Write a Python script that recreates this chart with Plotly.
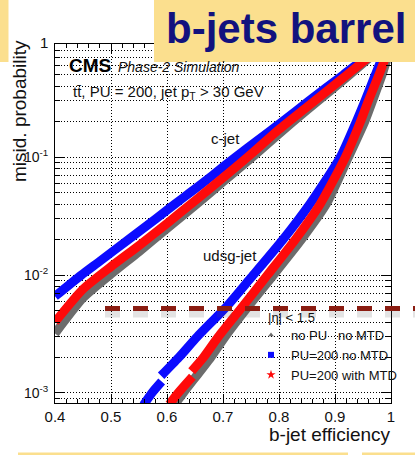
import plotly.graph_objects as go

# ---------------- data ----------------
# c-jet mistag vs b-jet efficiency
cjet_eff_pu200_nomtd = [0.400, 0.447, 0.480, 0.531, 0.580, 0.614, 0.641, 0.663, 0.681, 0.722, 0.760, 0.806, 0.853, 0.915, 0.955, 1.000]
cjet_mis_pu200_nomtd = [0.0066, 0.0100, 0.0131, 0.0200, 0.0300, 0.0400, 0.0500, 0.0600, 0.0700, 0.100, 0.137, 0.200, 0.300, 0.500, 0.700, 1.000]

cjet_eff = [0.40, 0.45, 0.50, 0.55, 0.60, 0.65, 0.70, 0.75, 0.80, 0.85, 0.90, 0.95, 1.00]
cjet_mis_pu200_mtd = [0.0040, 0.0076, 0.0118, 0.0178, 0.0274, 0.0427, 0.0668, 0.106, 0.172, 0.267, 0.413, 0.646, 1.000]
cjet_mis_nopu = [0.0032, 0.0064, 0.0102, 0.0158, 0.0248, 0.0389, 0.0617, 0.0977, 0.158, 0.251, 0.394, 0.624, 1.000]

# udsg-jet mistag vs b-jet efficiency (None = gap in the curve)
udsg_eff_pu200_nomtd = [0.558, 0.573, 0.5905, None, 0.5895, 0.621, 0.654, 0.7066, 0.750, 0.807, 0.855, 0.9095, 0.938, 0.9535, 0.972, 0.9845, 1.000]
udsg_mis_pu200_nomtd = [0.00079, 0.00100, 0.00125, None, 0.00140, 0.0020, 0.0030, 0.00542, 0.0095, 0.020, 0.040, 0.100, 0.200, 0.300, 0.500, 0.700, 1.000]

udsg_eff_pu200_mtd = [0.604, 0.620, 0.6454, None, 0.6440, 0.665, 0.6917, 0.735, 0.780, 0.829, 0.8735, 0.9185, 0.9455, 0.9595, 0.9785, 0.990, 1.000]
udsg_mis_pu200_mtd = [0.00080, 0.00100, 0.00137, None, 0.00153, 0.0020, 0.0030, 0.00542, 0.0101, 0.020, 0.040, 0.100, 0.200, 0.300, 0.500, 0.700, 1.000]

udsg_eff_nopu = [0.614, 0.629, 0.678, 0.7036, 0.745, 0.790, 0.840, 0.8845, 0.924, 0.953, 0.967, 0.984, 0.9935, 1.000]
udsg_mis_nopu = [0.00080, 0.00100, 0.0020, 0.0030, 0.00542, 0.0100, 0.020, 0.040, 0.100, 0.200, 0.300, 0.500, 0.700, 1.000]

x_tickvals = [0.4, 0.5, 0.6, 0.7, 0.8, 0.9, 1.0]
x_ticktext = ["0.4", "0.5", "0.6", "0.7", "0.8", "0.9", "1"]
y_tickvals = [0.001, 0.01, 0.1]
y_ticktext = ["10<sup>-3</sup>", "10<sup>-2</sup>", "10<sup>-1</sup>"]

series_names = ["no PU   no MTD", "PU=200 no MTD", "PU=200 with MTD"]

# ---------------- layout helpers ----------------
W, H = 415, 455
ML, MR, MT, MB = 55, 24, 44, 52
PW = W - ML - MR
PH = H - MT - MB


def px(xp):
    return (xp - ML) / PW


def py(yp):
    return (H - MB - yp) / PH


FONT = "Liberation Sans, Arial, Helvetica, sans-serif"
GRAY = "#6c6c6c"
BLUE = "#0b0bff"
RED = "#ff0a0a"
YELLOW = "#fbdf8e"
NAVY = "#12127e"
LW = 9
LSHAPE = dict(shape="spline", smoothing=0.6)

fig = go.Figure()

# gray first, then blue, then red on top
fig.add_trace(go.Scatter(x=cjet_eff, y=cjet_mis_nopu, mode="lines",
                         line=dict(color=GRAY, width=LW, **LSHAPE), showlegend=False))
fig.add_trace(go.Scatter(x=udsg_eff_nopu, y=udsg_mis_nopu, mode="lines",
                         line=dict(color=GRAY, width=LW, **LSHAPE), showlegend=False))
fig.add_trace(go.Scatter(x=cjet_eff_pu200_nomtd, y=cjet_mis_pu200_nomtd, mode="lines",
                         line=dict(color=BLUE, width=LW, **LSHAPE), showlegend=False))
fig.add_trace(go.Scatter(x=udsg_eff_pu200_nomtd, y=udsg_mis_pu200_nomtd, mode="lines",
                         line=dict(color=BLUE, width=LW, **LSHAPE), showlegend=False, connectgaps=False))
fig.add_trace(go.Scatter(x=cjet_eff, y=cjet_mis_pu200_mtd, mode="lines",
                         line=dict(color=RED, width=LW, **LSHAPE), showlegend=False))
fig.add_trace(go.Scatter(x=udsg_eff_pu200_mtd, y=udsg_mis_pu200_mtd, mode="lines",
                         line=dict(color=RED, width=LW, **LSHAPE), showlegend=False, connectgaps=False))

# legend entries
fig.add_trace(go.Scatter(x=[None], y=[None], mode="markers", name=series_names[0],
                         marker=dict(symbol="triangle-up", size=5, color=GRAY)))
fig.add_trace(go.Scatter(x=[None], y=[None], mode="markers", name=series_names[1],
                         marker=dict(symbol="square", size=6, color=BLUE)))
fig.add_trace(go.Scatter(x=[None], y=[None], mode="markers", name=series_names[2],
                         marker=dict(symbol="star", size=7, color=RED)))

axis_common = dict(
    showline=True, linecolor="black", linewidth=1, mirror="ticks",
    ticks="inside", tickcolor="black", tickwidth=1,
    showgrid=True, gridcolor="black", gridwidth=1, griddash="1px,2px",
    zeroline=False,
)

fig.update_xaxes(
    range=[0.4, 1.0], tickvals=x_tickvals, ticktext=x_ticktext, ticklen=9,
    minor=dict(dtick=0.02, tick0=0.4, ticks="inside", ticklen=4, tickcolor="black", showgrid=False),
    tickfont=dict(family=FONT, size=15, color="#111"),
    **axis_common,
)
fig.update_yaxes(
    type="log", range=[-3.085, -0.04], tickvals=y_tickvals, ticktext=y_ticktext, ticklen=10,
    minor=dict(dtick="D1", ticks="inside", ticklen=5, tickcolor="black", showgrid=True,
               gridcolor="black", griddash="1px,2px", gridwidth=1),
    ticklabelstandoff=3,
    tickfont=dict(family=FONT, size=14, color="#111"),
    **axis_common,
)

shapes = [
    # title box
    dict(type="rect", xref="paper", yref="paper", x0=px(154), x1=px(416), y0=py(62), y1=py(-1),
         fillcolor=YELLOW, line=dict(width=0), layer="above"),
    # left yellow strip
    dict(type="rect", xref="paper", yref="paper", x0=px(-1), x1=px(8.5), y0=py(62), y1=py(-1),
         fillcolor=YELLOW, line=dict(width=0), layer="above"),
    # bottom yellow strips
    dict(type="rect", xref="paper", yref="paper", x0=px(18), x1=px(348), y0=py(456), y1=py(452.5),
         fillcolor=YELLOW, line=dict(width=0), layer="above"),
    dict(type="rect", xref="paper", yref="paper", x0=px(362), x1=px(416), y0=py(456), y1=py(452.5),
         fillcolor=YELLOW, line=dict(width=0), layer="above"),
    # dashed line shadow
    dict(type="line", xref="paper", yref="paper", x0=px(105), x1=px(416), y0=py(313.5), y1=py(313.5),
         line=dict(color="rgba(80,80,80,0.16)", width=8, dash="15px,13px"), layer="above"),
    # dashed line
    dict(type="line", xref="paper", yref="paper", x0=px(105), x1=px(416), y0=py(308.5), y1=py(308.5),
         line=dict(color="#8b1d12", width=5, dash="15px,13px"), layer="above"),
]

annotations = [
    dict(text="<b>b-jets barrel</b>", x=px(286), y=py(29), xref="paper", yref="paper",
         xanchor="center", yanchor="middle", showarrow=False,
         font=dict(family=FONT, size=42, color=NAVY)),
    dict(text="<b>CMS</b>", x=px(67), y=py(65.5), xref="paper", yref="paper",
         xanchor="left", yanchor="middle", showarrow=False,
         font=dict(family=FONT, size=19, color="black")),
    dict(text="<i>Phase-2 Simulation</i>", x=px(116), y=py(67), xref="paper", yref="paper",
         xanchor="left", yanchor="middle", showarrow=False,
         font=dict(family=FONT, size=14, color="#111")),
    dict(text="tt\u0304, PU = 200, jet p<sub>T</sub> &gt; 30 GeV", x=px(71), y=py(92), xref="paper", yref="paper",
         xanchor="left", yanchor="middle", showarrow=False,
         font=dict(family=FONT, size=15, color="#111")),
    dict(text="c-jet", x=px(225.5), y=py(138), xref="paper", yref="paper",
         xanchor="center", yanchor="middle", showarrow=False,
         font=dict(family=FONT, size=15, color="#111")),
    dict(text="udsg-jet", x=px(230), y=py(255), xref="paper", yref="paper",
         xanchor="center", yanchor="middle", showarrow=False,
         font=dict(family=FONT, size=15, color="#111")),
    dict(text="|\u03b7| &lt; 1.5", x=px(266), y=py(317), xref="paper", yref="paper",
         xanchor="left", yanchor="middle", showarrow=False,
         font=dict(family=FONT, size=13, color="#111")),
    dict(text="b-jet efficiency", x=px(393), y=py(434), xref="paper", yref="paper",
         xanchor="right", yanchor="middle", showarrow=False,
         font=dict(family=FONT, size=19, color="#111")),
    dict(text="misid. probability", x=px(19), y=py(38), xref="paper", yref="paper",
         xanchor="center", yanchor="top", textangle=-90, showarrow=False,
         font=dict(family=FONT, size=19, color="#111")),
    dict(text="1", x=px(50), y=py(42), xref="paper", yref="paper",
         xanchor="right", yanchor="middle", showarrow=False,
         font=dict(family=FONT, size=15, color="#111")),
]

fig.update_layout(
    width=W, height=H,
    margin=dict(l=ML, r=MR, t=MT, b=MB, pad=0),
    paper_bgcolor="white", plot_bgcolor="white",
    shapes=shapes, annotations=annotations,
    showlegend=True,
    legend=dict(x=px(251), y=py(320), xanchor="left", yanchor="top",
                bgcolor="rgba(0,0,0,0)", borderwidth=0, tracegroupgap=0,
                font=dict(family=FONT, size=13, color="#111")),
)

fig.write_html("out.html")
